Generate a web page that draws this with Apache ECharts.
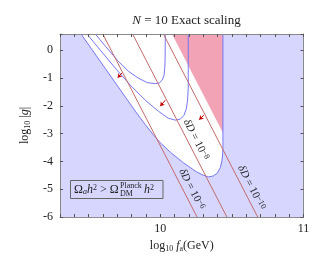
<!DOCTYPE html>
<html><head><meta charset="utf-8">
<script src="https://cdn.jsdelivr.net/npm/echarts@6/dist/echarts.min.js"></script>
<style>html,body{margin:0;padding:0;background:#fff}#c{width:331px;height:276px}</style>
</head><body><div id="c"></div>
<script>
// ---- data (log10 fa, log10 |g|) ----
const xTickLabels = [10, 11];
const yTickLabels = [0, -1, -2, -3, -4, -5, -6];
// outer contour: Omega_a h^2 = Omega_DM h^2 (boundary of allowed region)
const planckContour = [[9.447,0.58],[9.8255,-2.194],[9.8953,-2.680],[9.9512,-3.040],[10.0,-3.327],[10.0698,-3.669],[10.1605,-4.047],[10.2512,-4.371],[10.3001,-4.496],[10.335,-4.558],[10.3699,-4.525],[10.3978,-4.424],[10.4191,-4.227],[10.4313,-3.957],[10.4362,-3.669],[10.4375,-3.453],[10.4375,0.58]];
const middleContour = [[9.4885,0.58],[9.5813,0],[9.686,-0.647],[9.7906,-1.259],[9.8953,-1.799],[9.986,-2.194],[10.0558,-2.446],[10.1047,-2.518],[10.1396,-2.482],[10.164,-2.356],[10.1814,-2.122],[10.1905,-1.799],[10.1954,-1.367],[10.1954,0.58]];
const innerContour = [[9.5464,0.58],[9.6162,0.144],[9.70,-0.36],[9.7767,-0.755],[9.8465,-1.007],[9.9093,-1.169],[9.9651,-1.205],[9.993,-1.18],[10.014,-1.079],[10.0265,-0.899],[10.032,-0.612],[10.0342,-0.18],[10.035,0.58]];
// excluded (pink) region
const pinkRegion = [[10.082,0.58],[10.4375,-2.975],[10.4375,0.58]];
// delta D lines
const deltaD6 = [[9.599,0.58],[10.257,-6]];
const deltaD8 = [[9.807,0.58],[10.465,-6]];
const deltaD10 = [[10.022,0.58],[10.68,-6]];
const deltaExps = ['−6', '−8', '−10'];
const deltaLabelY = [-5.13, -3.35, -5.07];
// arrows [tail, head]
const arrows = [
  [[9.733,-0.817],[9.703,-0.989]],
  [[10.035,-1.799],[10.0,-2.014]],
  [[10.304,-2.338],[10.272,-2.50]]
];

const SERIF = '"Liberation Serif", "DejaVu Serif", serif';
const BLUE_FILL = '#d6d6ff', PINK = '#f2a3b5', BLUE_LINE = '#7676f4', RED_LINE = '#c46a6a', ARROW = '#c00000';

function polySeries(points, color, z) {
  return {
    type: 'custom', coordinateSystem: 'cartesian2d', data: [[points[0][0], points[0][1]]], silent: true, z: z, clip: true,
    renderItem: function (params, api) {
      return { type: 'polygon', shape: { points: points.map(function (p) { return api.coord(p); }) }, style: { fill: color } };
    }
  };
}
function lineSeries(points, color) {
  return { type: 'line', data: points, showSymbol: false, symbol: 'none', silent: true, z: 5,
    lineStyle: { color: color, width: 1 }, clip: true, animation: false };
}
const deltaLines = [deltaD6, deltaD8, deltaD10];
const richTxt = {
  i: { fontFamily: SERIF, fontStyle: 'italic', fontSize: 11, fill: '#222' },
  n: { fontFamily: SERIF, fontSize: 11, fill: '#222' },
  s: { fontFamily: SERIF, fontSize: 8, verticalAlign: 'top', fill: '#222' }
};

const chart = echarts.init(document.getElementById('c'), null, { renderer: 'canvas' });
const fmtInt = function (v) { const r = Math.round(v); return Math.abs(v - r) < 1e-6 ? String(r) : ''; };
const axisCommon = {
  axisLine: { show: true, onZero: false, lineStyle: { color: '#8a8a8a', width: 1 } },
  axisTick: { show: true, inside: true, length: 3, lineStyle: { color: '#555' } },
  splitLine: { show: false }, z: 10
};
chart.setOption({
  animation: false,
  backgroundColor: '#fff',
  title: {
    text: '{i|N} = 10 Exact scaling', left: 181.5, top: 9, textAlign: 'center',
    textStyle: { fontFamily: SERIF, fontSize: 13, fontWeight: 'normal', color: '#222',
      rich: { i: { fontFamily: SERIF, fontStyle: 'italic', fontSize: 13, color: '#222' } } }
  },
  grid: { left: 60, right: 27.5, top: 34, bottom: 59, show: true, backgroundColor: BLUE_FILL, borderWidth: 0 },
  xAxis: [
    Object.assign({}, axisCommon, {
      type: 'value', min: 9.3, max: 11, interval: 0.1, position: 'bottom',
      axisLabel: { formatter: fmtInt, fontFamily: SERIF, fontSize: 12, color: '#222', margin: 6 },
      name: 'log{s|10} {i|f}{s|a}(GeV)', nameLocation: 'middle', nameGap: 20,
      nameTextStyle: { fontFamily: SERIF, fontSize: 12, color: '#222', rich: {
        i: { fontFamily: SERIF, fontStyle: 'italic', fontSize: 12, color: '#222' },
        s: { fontFamily: SERIF, fontSize: 8, color: '#222', verticalAlign: 'bottom', padding: [6, 0, 0, 0] } } }
    }),
    Object.assign({}, axisCommon, { type: 'value', min: 9.3, max: 11, interval: 0.1, position: 'top', axisLabel: { show: false } })
  ],
  yAxis: [
    Object.assign({}, axisCommon, {
      type: 'value', min: -6, max: 0.58, interval: 1, position: 'left',
      axisLabel: { formatter: fmtInt, fontFamily: SERIF, fontSize: 12, color: '#222', margin: 7 },
      name: 'log{s|10} |{i|g}|', nameLocation: 'middle', nameGap: 26, nameRotate: 90,
      nameTextStyle: { fontFamily: SERIF, fontSize: 12, color: '#222', rich: {
        i: { fontFamily: SERIF, fontStyle: 'italic', fontSize: 12, color: '#222' },
        s: { fontFamily: SERIF, fontSize: 8, color: '#222', verticalAlign: 'bottom', padding: [6, 0, 0, 0] } } }
    }),
    Object.assign({}, axisCommon, { type: 'value', min: -6, max: 0.58, interval: 1, position: 'right', axisLabel: { show: false } })
  ],
  series: [
    polySeries(planckContour, '#ffffff', 1),
    polySeries(pinkRegion, PINK, 2),
    lineSeries(planckContour, BLUE_LINE),
    lineSeries(middleContour, BLUE_LINE),
    lineSeries(innerContour, BLUE_LINE),
    lineSeries(deltaD6, RED_LINE),
    lineSeries(deltaD8, RED_LINE),
    lineSeries(deltaD10, RED_LINE),
    {
      type: 'lines', coordinateSystem: 'cartesian2d', silent: true, z: 6,
      symbol: ['none', 'arrow'], symbolSize: 4,
      lineStyle: { color: ARROW, width: 1, opacity: 1 },
      data: arrows.map(function (a) { return { coords: a }; })
    },
    {
      type: 'custom', coordinateSystem: 'cartesian2d', data: [[10, -3]], silent: true, z: 7, clip: false,
      renderItem: function (params, api) {
        const children = deltaLines.map(function (ln, k) {
          const a = api.coord(ln[0]), b = api.coord(ln[1]);
          const t = (deltaLabelY[k] - ln[0][1]) / (ln[1][1] - ln[0][1]);
          const p = api.coord([ln[0][0] + t * (ln[1][0] - ln[0][0]), deltaLabelY[k]]);
          const dx = b[0] - a[0], dy = b[1] - a[1], L = Math.hypot(dx, dy);
          const off = 8;
          return { type: 'text', x: p[0] + dy / L * off, y: p[1] - dx / L * off, rotation: -Math.atan2(dy, dx),
            style: { text: '{i|δD}{n| = 10}{s|' + deltaExps[k] + '}', rich: richTxt, align: 'center', verticalAlign: 'middle' } };
        });
        return { type: 'group', children: children };
      }
    }
  ],
  graphic: [
    { type: 'rect', shape: { x: 70.5, y: 180.5, width: 92.5, height: 18 }, style: { fill: 'none', stroke: '#666', lineWidth: 1 }, z: 100 },
    { type: 'text', x: 74, y: 189.5, z: 100, style: { text: '{m|Ω}{b|a}{i|h}{p|2}{m| > Ω}', verticalAlign: 'middle', rich: {
      m: { fontFamily: SERIF, fontSize: 12, fill: '#222' },
      i: { fontFamily: SERIF, fontSize: 12, fontStyle: 'italic', fill: '#222' },
      b: { fontFamily: SERIF, fontSize: 8, fontStyle: 'italic', fill: '#222', verticalAlign: 'bottom' },
      p: { fontFamily: SERIF, fontSize: 8, fill: '#222', verticalAlign: 'top' } } } },
    { type: 'text', x: 120, y: 185.5, z: 100, style: { text: 'Planck', font: '8px ' + SERIF, fill: '#222', verticalAlign: 'middle' } },
    { type: 'text', x: 120, y: 193.5, z: 100, style: { text: 'DM', font: '8px ' + SERIF, fill: '#222', verticalAlign: 'middle' } },
    { type: 'text', x: 144, y: 189.5, z: 100, style: { text: '{i|h}{p|2}', verticalAlign: 'middle', rich: {
      i: { fontFamily: SERIF, fontSize: 12, fontStyle: 'italic', fill: '#222' },
      p: { fontFamily: SERIF, fontSize: 8, fill: '#222', verticalAlign: 'top' } } } }
  ]
});
</script></body></html>
